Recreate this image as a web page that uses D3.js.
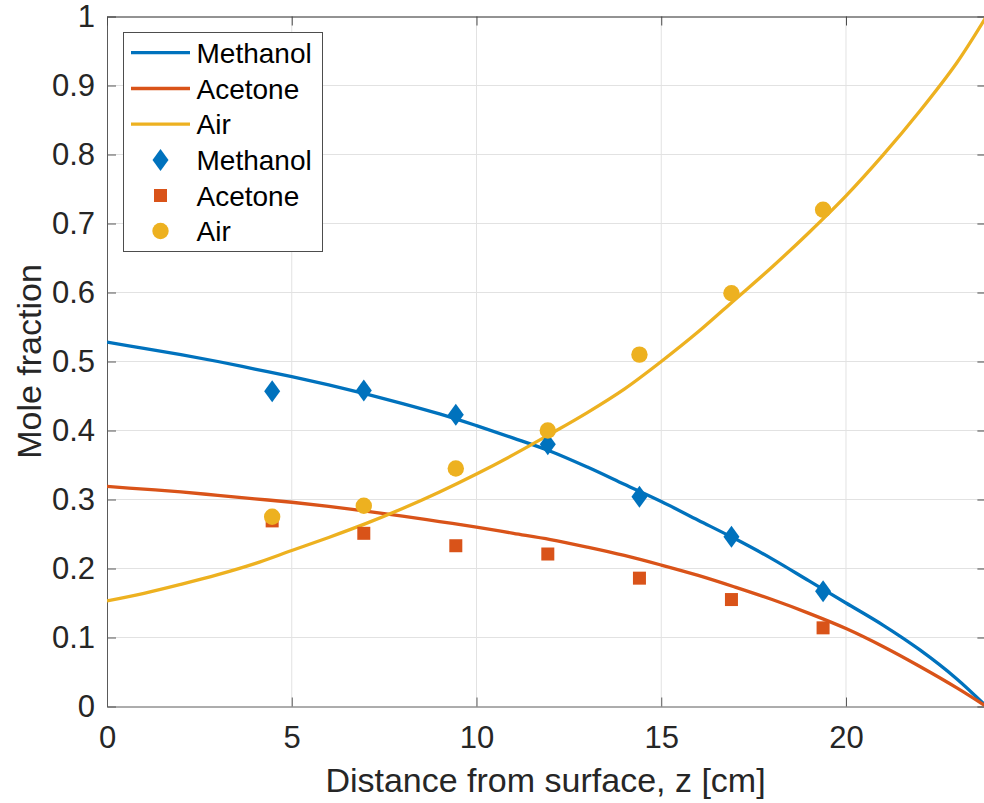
<!DOCTYPE html>
<html><head><meta charset="utf-8">
<script src="https://cdn.jsdelivr.net/npm/d3@7"></script>
<style>
html,body{margin:0;padding:0;background:#fff;}
svg{display:block;font-family:"Liberation Sans",Arial,Helvetica,sans-serif;}
</style></head>
<body>
<svg id="chart" width="984" height="803"></svg>
<script>
// ---- data ----
const modelZ = [0,1,2,3,4,5,6,7,8,9,10,11,12,13,14,15,16,17,18,19,20,21,22,23,23.8];
const modelMethanol = [0.528,0.519,0.510,0.500,0.489,0.478,0.466,0.453,0.439,0.424,0.407,0.389,0.370,0.347,0.322,0.297,0.270,0.243,0.214,0.182,0.150,0.118,0.082,0.040,0.0];
const modelAcetone  = [0.319,0.315,0.311,0.306,0.301,0.296,0.290,0.283,0.276,0.268,0.260,0.251,0.242,0.231,0.219,0.205,0.190,0.173,0.155,0.135,0.113,0.087,0.058,0.027,0.0];
const modelAir      = [0.153,0.164,0.177,0.191,0.207,0.226,0.245,0.265,0.287,0.311,0.337,0.365,0.395,0.426,0.460,0.500,0.543,0.590,0.637,0.687,0.740,0.799,0.863,0.933,1.0];

const expZ = [4.47,6.95,9.44,11.93,14.41,16.9,19.38];
const expMethanol = [0.457,0.458,0.423,0.380,0.304,0.246,0.167];
const expAcetone  = [0.269,0.251,0.233,0.221,0.186,0.155,0.114];
const expAir      = [0.275,0.291,0.345,0.400,0.510,0.599,0.720];

const xTicks = [0,5,10,15,20];
const yTicks = [0,0.1,0.2,0.3,0.4,0.5,0.6,0.7,0.8,0.9,1];
const seriesNames = ["Methanol","Acetone","Air"];
const colors = ["#0072BD","#D95319","#EDB120"];

// ---- layout ----
const L = 107, R = 986.4, T = 16.5, B = 706.5;
const svg = d3.select("#chart");
const x = d3.scaleLinear().domain([0, 23.8]).range([L, R]);
const y = d3.scaleLinear().domain([0, 1]).range([B, T]);

svg.append("defs").append("clipPath").attr("id","clip")
  .append("rect").attr("x",L).attr("y",T).attr("width",R-L).attr("height",B-T);

// grid
const grid = svg.append("g").attr("stroke","#e2e2e2").attr("stroke-width",1);
xTicks.forEach(t => { if (t>0) grid.append("line").attr("x1",x(t)).attr("x2",x(t)).attr("y1",T).attr("y2",B); });
yTicks.forEach(t => { if (t>0 && t<1) grid.append("line").attr("x1",L).attr("x2",R).attr("y1",y(t)).attr("y2",y(t)); });

// axes via d3 axis (inward ticks)
const tickLen = 9;
const fontTick = 31;
const axB = svg.append("g").attr("transform",`translate(0,${B})`)
  .call(d3.axisBottom(x).tickValues(xTicks).tickSizeInner(-tickLen).tickSizeOuter(0).tickPadding(19).tickFormat(d3.format("d")));
const axL = svg.append("g").attr("transform",`translate(${L},0)`)
  .call(d3.axisLeft(y).tickValues(yTicks).tickSizeInner(-tickLen).tickSizeOuter(0).tickPadding(12).tickFormat(d => d===0||d===1 ? d3.format("d")(d) : d3.format(".1f")(d)));
const axT = svg.append("g").attr("transform",`translate(0,${T})`)
  .call(d3.axisTop(x).tickValues(xTicks).tickSizeInner(-tickLen).tickSizeOuter(0).tickFormat(""));
const axR = svg.append("g").attr("transform",`translate(${R},0)`)
  .call(d3.axisRight(y).tickValues(yTicks).tickSizeInner(-tickLen).tickSizeOuter(0).tickFormat(""));
[axB,axL].forEach(a => {
  a.select(".domain").attr("stroke","#5a5a5a");
  a.selectAll(".tick line").attr("stroke","#5a5a5a");
  a.selectAll(".tick text").attr("fill","#262626").attr("font-size",fontTick).attr("font-family","Liberation Sans, Arial, sans-serif");
});
[axT,axR].forEach(a => {
  a.select(".domain").attr("stroke","#262626");
  a.selectAll(".tick line").attr("stroke","#4a4a4a");
});

// model lines
const plot = svg.append("g").attr("clip-path","url(#clip)");
const modelSeries = [modelMethanol, modelAcetone, modelAir];
const line = d3.line().curve(d3.curveCatmullRom.alpha(0.5)).x(d=>x(d[0])).y(d=>y(d[1]));
modelSeries.forEach((vals,i) => {
  plot.append("path").datum(modelZ.map((z,k)=>[z, vals[k]]))
    .attr("d", line).attr("fill","none").attr("stroke",colors[i]).attr("stroke-width",3.3);
});

// markers
const expSeries = [expMethanol, expAcetone, expAir];
function drawMarker(g, type, cx, cy, color) {
  if (type === 0) {
    g.append("path").attr("d",`M${cx},${cy-11} L${cx+8},${cy} L${cx},${cy+11} L${cx-8},${cy} Z`).attr("fill",color);
  } else if (type === 1) {
    g.append("rect").attr("x",cx-6.5).attr("y",cy-6.5).attr("width",13).attr("height",13).attr("fill",color);
  } else {
    g.append("circle").attr("cx",cx).attr("cy",cy).attr("r",8.2).attr("fill",color);
  }
}
const mk = svg.append("g");
expSeries.forEach((vals,i) => {
  vals.forEach((v,k) => drawMarker(mk, i, x(expZ[k]), y(v), colors[i]));
});

// axis labels
svg.append("text").attr("x",(L+984)/2).attr("y",792).attr("text-anchor","middle")
  .attr("font-size",34).attr("fill","#262626").text("Distance from surface, z [cm]");
svg.append("text").attr("transform",`translate(41,${(T+B)/2}) rotate(-90)`).attr("text-anchor","middle")
  .attr("font-size",34).attr("fill","#262626").text("Mole fraction");

// legend
const lg = svg.append("g");
lg.append("rect").attr("x",123.5).attr("y",32.5).attr("width",199).attr("height",219)
  .attr("fill","#fff").attr("stroke","#4d4d4d").attr("stroke-width",1);
const rowY = [52.7,88.5,124.2,160,195.5,231];
const labels = seriesNames.concat(seriesNames);
labels.forEach((name,j) => {
  const cy = rowY[j];
  if (j < 3) {
    lg.append("line").attr("x1",131).attr("x2",190).attr("y1",cy).attr("y2",cy).attr("stroke",colors[j]).attr("stroke-width",3.3);
  } else {
    drawMarker(lg, j-3, 160.5, cy, colors[j-3]);
  }
  lg.append("text").attr("x",196.5).attr("y",cy+10).attr("font-size",28).attr("fill","#000").text(name);
});
</script>
</body></html>
